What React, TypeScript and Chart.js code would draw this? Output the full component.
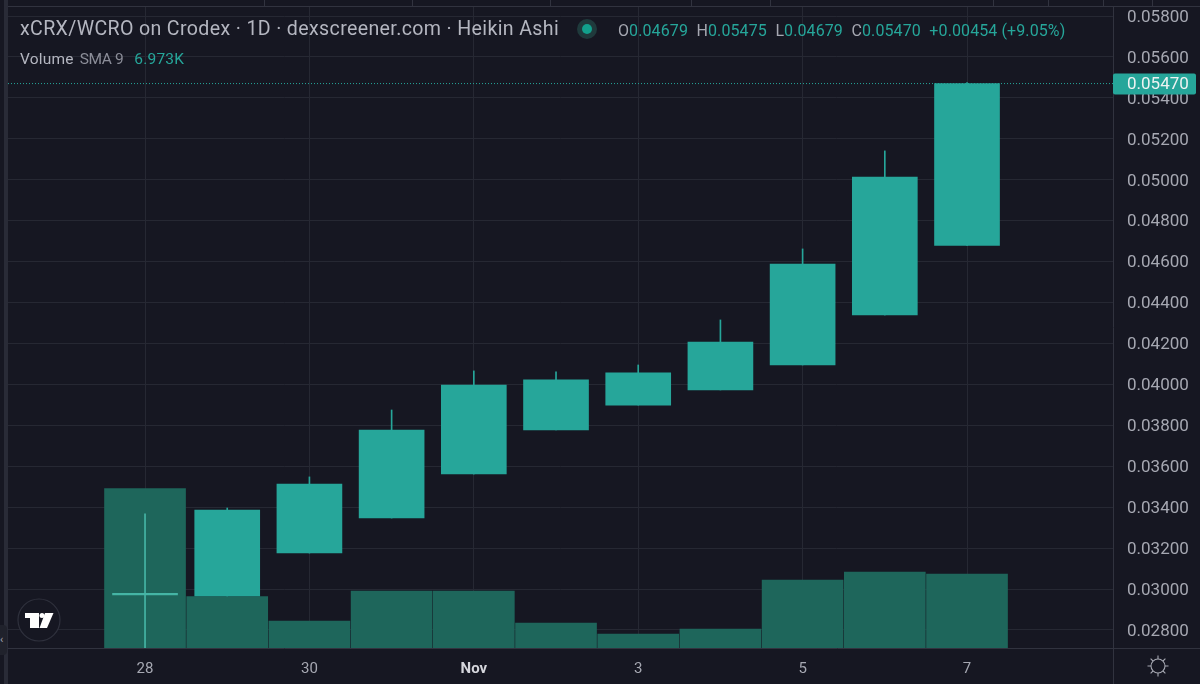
import { useEffect, useRef } from 'react'
import { Chart, registerables } from 'chart.js'

Chart.register(...registerables)

const dayLabels = ['28', '29', '30', '31', 'Nov', '2', '3', '4', '5', '6', '7']
const shownDays = [0, 2, 4, 6, 8, 10]
const priceTicks = [0.058, 0.056, 0.054, 0.052, 0.05, 0.048, 0.046, 0.044, 0.042, 0.04, 0.038, 0.036, 0.034, 0.032, 0.03, 0.028]

// heikin ashi candles
const opens = [0.02971, 0.02966, 0.03176, 0.03347, 0.03562, 0.03777, 0.03899, 0.03973, 0.04095, 0.04339, 0.04679]
const closes = [0.02979, 0.03386, 0.03513, 0.03777, 0.03997, 0.04022, 0.04056, 0.04207, 0.04588, 0.05013, 0.0547]
const highs = [0.03367, 0.03396, 0.03548, 0.03875, 0.04066, 0.04061, 0.04095, 0.04315, 0.04662, 0.05141, 0.05475]
const lows = [0.0271, 0.02966, 0.03176, 0.03347, 0.03562, 0.03777, 0.03899, 0.03973, 0.04095, 0.04339, 0.04679]
const volumes = [23.9, 7.7, 4.05, 8.55, 8.55, 3.75, 2.1, 2.85, 10.2, 11.4, 11.1]

const lastPrice = 0.0547

const BG = '#161722'
const TEAL = '#26a69a'
const VOLUME = '#1e665b'
const GRID = '#262833'
const LINE = '#31333f'
const TEXT = '#a6a8b2'

const lastPricePlugin = {
  id: 'lastPrice',
  afterDatasetsDraw(chart: any) {
    const { ctx, chartArea, scales } = chart
    const y = scales.y.getPixelForValue(lastPrice)
    ctx.save()
    ctx.strokeStyle = TEAL
    ctx.lineWidth = 1
    ctx.setLineDash([1, 2])
    ctx.beginPath()
    ctx.moveTo(chartArea.left, y)
    ctx.lineTo(chartArea.right, y)
    ctx.stroke()
    ctx.setLineDash([])
    ctx.fillStyle = TEAL
    ctx.beginPath()
    ctx.roundRect(chartArea.right, y - 10, 83, 21, 2)
    ctx.fill()
    ctx.fillStyle = '#eef3f2'
    ctx.font = '17px Roboto'
    ctx.textBaseline = 'middle'
    ctx.fillText(lastPrice.toFixed(5), chartArea.right + 14, y + 1)
    ctx.restore()
  },
}

function Divider({ x, y, w, h, color }: { x: number; y: number; w: number; h: number; color?: string }) {
  return <div style={{ position: 'absolute', left: x, top: y, width: w, height: h, background: color || LINE }} />
}

export default function App() {
  const chartRef = useRef<HTMLCanvasElement>(null)

  useEffect(() => {
    document.body.style.margin = '0'
    if (!chartRef.current) return

    const xs = dayLabels.map((_, i) => i)
    const chart = new Chart(chartRef.current, {
      type: 'bar',
      data: {
        datasets: [
          {
            label: 'Volume',
            data: xs.map((x) => ({ x, y: volumes[x] })),
            backgroundColor: VOLUME,
            barThickness: 81,
            grouped: false,
            yAxisID: 'y2',
            order: 3,
          },
          {
            label: 'Wick',
            data: xs.map((x) => ({ x, y: [lows[x], highs[x]] })),
            backgroundColor: (c: any) => (c.dataIndex === 0 ? '#45b5a5' : TEAL),
            barThickness: 1,
            grouped: false,
            yAxisID: 'y',
            order: 2,
          },
          {
            label: 'Candle',
            data: xs.map((x) => ({ x, y: [opens[x], closes[x]] })),
            backgroundColor: (c: any) => (c.dataIndex === 0 ? '#45b5a5' : TEAL),
            barThickness: 65,
            grouped: false,
            yAxisID: 'y',
            order: 1,
          },
        ] as any,
      },
      options: {
        animation: false,
        responsive: false,
        layout: { padding: { left: 8, top: 6 } },
        plugins: { legend: { display: false }, tooltip: { enabled: false } },
        scales: {
          x: {
            type: 'linear',
            bounds: 'data',
            offset: false,
            min: -1.667,
            max: 11.776,
            afterBuildTicks: (scale: any) => {
              scale.ticks = shownDays.map((value) => ({ value }))
            },
            afterFit: (scale: any) => {
              scale.height = 36
              scale.paddingLeft = 0
              scale.paddingRight = 0
            },
            grid: { color: GRID, drawTicks: false, offset: false },
            border: { color: LINE },
            ticks: {
              autoSkip: false,
              maxRotation: 0,
              padding: 12,
              color: (c: any) => (c.tick?.value === 4 ? '#d5d6dc' : TEXT),
              font: (c: any) => ({ family: 'Roboto', size: 15, weight: c.tick?.value === 4 ? 'bold' : 'normal' }),
              callback: (value: any) => dayLabels[value],
            },
          },
          y: {
            position: 'right',
            bounds: 'data',
            min: 0.02712,
            max: 0.05849,
            afterBuildTicks: (scale: any) => {
              scale.ticks = priceTicks.map((value) => ({ value }))
            },
            afterFit: (scale: any) => {
              scale.width = 87
              scale.paddingTop = 0
              scale.paddingBottom = 0
            },
            grid: { color: GRID, drawTicks: false },
            border: { color: LINE },
            ticks: {
              autoSkip: false,
              padding: 14,
              labelOffset: 1.5,
              color: TEXT,
              font: { family: 'Roboto', size: 17 },
              callback: (value: any) => Number(value).toFixed(5),
            },
          },
          y2: { display: false, min: 0, max: 96.3 },
        },
      } as any,
      plugins: [lastPricePlugin],
    })

    return () => chart.destroy()
  }, [])

  const ohlc = [
    ['O', '0.04679'],
    ['H', '0.05475'],
    ['L', '0.04679'],
    ['C', '0.05470'],
  ]

  return (
    <div style={{ position: 'relative', width: 1200, height: 684, background: BG, overflow: 'hidden', fontFamily: 'Roboto' }}>
      <canvas ref={chartRef} width={1200} height={684} style={{ display: 'block' }} />

      {/* frame around the plot */}
      <Divider x={4} y={0} w={4} h={684} color="#292b37" />
      <Divider x={8} y={6} w={1192} h={1} />
      <Divider x={1113} y={648} w={1} h={36} />
      <Divider x={1113} y={648} w={87} h={1} />
      {[264, 412, 550, 691, 770, 993, 1048, 1103, 1152].map((x) => (
        <Divider key={x} x={x} y={0} w={1} h={6} />
      ))}

      {/* header */}
      <div style={{ position: 'absolute', left: 20, top: 17, fontSize: 19.6, color: '#b4b6c0', whiteSpace: 'nowrap', letterSpacing: 0.35 }}>
        xCRX/WCRO on Crodex · 1D · dexscreener.com · Heikin Ashi
      </div>
      <div style={{ position: 'absolute', left: 20, top: 50, fontSize: 15.5, letterSpacing: 0.2, whiteSpace: 'nowrap', color: '#b4b6c0' }}>
        Volume <span style={{ color: '#8b8d98', marginLeft: 2, letterSpacing: -0.4 }}>SMA 9</span>
        <span style={{ color: TEAL, marginLeft: 11 }}>6.973K</span>
      </div>
      <div style={{ position: 'absolute', left: 577, top: 19, width: 20, height: 20, borderRadius: 10, background: '#1f3a3c' }} />
      <div style={{ position: 'absolute', left: 582, top: 24, width: 10, height: 10, borderRadius: 5, background: '#12a08c' }} />
      <div style={{ position: 'absolute', left: 618, top: 21, fontSize: 16, letterSpacing: 0.1, whiteSpace: 'nowrap', color: TEAL }}>
        {ohlc.map(([k, v]) => (
          <span key={k} style={{ marginRight: 8.5 }}>
            <span style={{ color: '#a6a8b2' }}>{k}</span>
            {v}
          </span>
        ))}
        <span>+0.00454 (+9.05%)</span>
      </div>

      {/* tradingview badge */}
      <svg style={{ position: 'absolute', left: 16, top: 597 }} width={46} height={46} viewBox="0 0 46 46">
        <circle cx={23} cy={23} r={21} fill={BG} stroke="#2f313d" strokeWidth={1.2} />
        <path d="M9 16 H23 V31 H14 V21 H9 Z" fill="#fff" />
        <circle cx={26} cy={18.5} r={2.5} fill="#fff" />
        <path d="M29 16 H37.5 L31 31 H23.5 Z" fill="#fff" />
      </svg>
      <div style={{ position: 'absolute', left: 0, top: 625, width: 7, height: 30, background: '#20222c', borderRadius: '0 4px 4px 0', color: '#a6a8b2', fontSize: 11, lineHeight: '30px' }}>
        ‹
      </div>

      {/* settings gear */}
      <svg style={{ position: 'absolute', left: 1146, top: 654 }} width={24} height={24} viewBox="0 0 24 24" fill="none" stroke="#a6a8b2" strokeWidth={1.1}>
        <circle cx={12} cy={12} r={7} />
        <path d="M12 1.5V5M12 19v3.5M1.5 12H5M19 12h3.5M4.6 4.6l2.4 2.4M17 17l2.4 2.4M19.4 4.6L17 7M7 17l-2.4 2.4" />
      </svg>
    </div>
  )
}
